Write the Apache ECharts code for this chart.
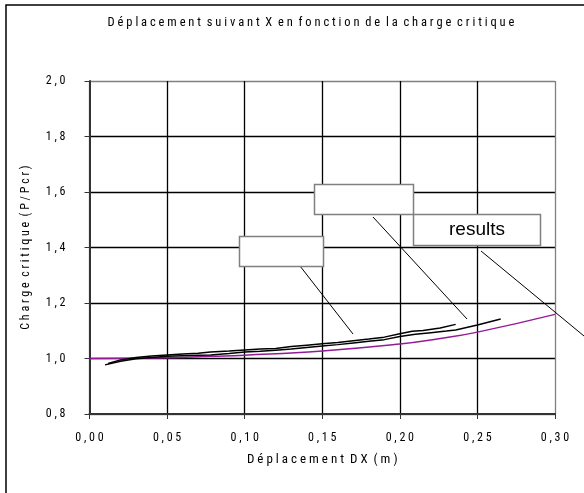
<!DOCTYPE html>
<html>
<head>
<meta charset="utf-8">
<script src="https://cdn.jsdelivr.net/npm/echarts@6/dist/echarts.min.js"></script>
<style>
html,body{margin:0;padding:0;background:#fff;}
#chart{width:584px;height:493px;}
</style>
</head>
<body>
<div id="chart"></div>
<script>
// ---- data ----
const titleText = "Déplacement suivant X en fonction de la charge critique";
const xAxisName = "Déplacement DX (m)";
const yAxisName = "Charge critique (P/Pcr)";
const boxLabel = "results";

const xTicks = [0.00, 0.05, 0.10, 0.15, 0.20, 0.25, 0.30];
const yTicks = [0.8, 1.0, 1.2, 1.4, 1.6, 1.8, 2.0];

const upperX = [0.012,0.020,0.030,0.040,0.050,0.060,0.070,0.078,0.090,0.100,0.110,0.120,0.130,0.140,0.150,0.160,0.170,0.180,0.190,0.200,0.208,0.215,0.226,0.236];
const upperY = [0.982,0.995,1.004,1.009,1.013,1.016,1.019,1.023,1.027,1.031,1.034,1.036,1.043,1.048,1.053,1.058,1.064,1.070,1.077,1.089,1.098,1.101,1.110,1.123];

const lowerX = [0.010,0.020,0.030,0.040,0.050,0.060,0.070,0.078,0.090,0.100,0.110,0.120,0.130,0.140,0.150,0.160,0.170,0.180,0.190,0.200,0.210,0.220,0.230,0.236,0.250,0.265];
const lowerY = [0.977,0.990,0.999,1.004,1.008,1.010,1.012,1.013,1.018,1.023,1.026,1.030,1.034,1.040,1.045,1.050,1.056,1.062,1.068,1.079,1.087,1.093,1.099,1.103,1.121,1.142];

const purpleX = [0.000,0.050,0.078,0.100,0.150,0.200,0.225,0.250,0.300];
const purpleY = [1.000,1.003,1.008,1.012,1.027,1.052,1.071,1.095,1.159];

// ---- helpers ----
const spaced = s => s.split(' ').map(w => w.split('').join(' ')).join('  ');
const zip = (a, b) => a.map((v, i) => [v, b[i]]);
const FONT = "'Roboto Condensed','Liberation Sans',Arial,sans-serif";

const chart = echarts.init(document.getElementById('chart'), null, {renderer: 'canvas'});
const gray = '#808080';

chart.setOption({
  animation: false,
  backgroundColor: '#fff',
  title: {
    text: spaced(titleText),
    left: 306, top: 11, textAlign: 'center',
    textStyle: {fontFamily: FONT, fontSize: 12.5, fontWeight: 'normal', color: '#000'}
  },
  grid: {left: 89.5, right: 29, top: 81, bottom: 79, show: false},
  xAxis: {
    type: 'value', min: 0, max: 0.30, interval: 0.05,
    name: spaced(xAxisName), nameLocation: 'middle', nameGap: 39,
    nameTextStyle: {fontFamily: FONT, fontSize: 13, color: '#000'},
    axisLine: {show: true, onZero: false, lineStyle: {color: '#333', width: 2}},
    axisTick: {show: true, length: 5, lineStyle: {color: '#333', width: 1}},
    axisLabel: {margin: 18, fontFamily: FONT, fontSize: 12, color: '#000',
      formatter: v => spaced(v.toFixed(2).replace('.', ','))},
    splitLine: {show: true, lineStyle: {color: [gray,'#000','#000','#000','#000','#000',gray], width: 1.3}}
  },
  yAxis: {
    type: 'value', min: 0.8, max: 2.0, interval: 0.2,
    name: spaced(yAxisName), nameLocation: 'middle', nameGap: 58, nameRotate: 90,
    nameTextStyle: {fontFamily: FONT, fontSize: 12, color: '#000'},
    axisLine: {show: true, onZero: false, lineStyle: {color: '#333', width: 2}},
    axisTick: {show: true, length: 5, lineStyle: {color: '#333', width: 1}},
    axisLabel: {margin: 24, fontFamily: FONT, fontSize: 12, color: '#000',
      formatter: v => spaced(v.toFixed(1).replace('.', ','))},
    splitLine: {show: true, lineStyle: {color: [gray,'#000','#000','#000','#000','#000',gray], width: 1.3}}
  },
  series: [
    {type: 'line', data: zip(purpleX, purpleY), smooth: true, showSymbol: false,
      lineStyle: {color: '#951b96', width: 1.5}, z: 3},
    {type: 'line', data: zip(lowerX, lowerY), showSymbol: false,
      lineStyle: {color: '#000', width: 1.5}, z: 4},
    {type: 'line', data: zip(upperX, upperY), showSymbol: false,
      lineStyle: {color: '#000', width: 1.5}, z: 4}
  ],
  graphic: [
    {type: 'rect', shape: {x: 6, y: 5, width: 700, height: 700}, style: {fill: 'none', stroke: '#000', lineWidth: 1.5}, z: 100, silent: true},
    {type: 'line', shape: {x1: 300, y1: 266, x2: 353, y2: 334}, style: {stroke: '#000', lineWidth: 1}, z: 100},
    {type: 'line', shape: {x1: 373, y1: 217, x2: 467, y2: 319}, style: {stroke: '#000', lineWidth: 1}, z: 100},
    {type: 'line', shape: {x1: 481, y1: 251, x2: 584, y2: 336}, style: {stroke: '#000', lineWidth: 1}, z: 100},
    {type: 'rect', shape: {x: 239.5, y: 236.5, width: 84, height: 30}, style: {fill: '#fff', stroke: gray, lineWidth: 1.5}, z: 101},
    {type: 'rect', shape: {x: 314.5, y: 184.5, width: 99, height: 30}, style: {fill: '#fff', stroke: gray, lineWidth: 1.5}, z: 101},
    {type: 'rect', shape: {x: 413.5, y: 214.5, width: 127, height: 31}, style: {fill: '#fff', stroke: gray, lineWidth: 1.5}, z: 101},
    {type: 'text', x: 477, y: 230, z: 102,
      style: {text: boxLabel, fontFamily: "'Liberation Sans',Arial,sans-serif", fontSize: 19, fill: '#000', textAlign: 'center', textVerticalAlign: 'middle'}}
  ]
});
</script>
</body>
</html>
